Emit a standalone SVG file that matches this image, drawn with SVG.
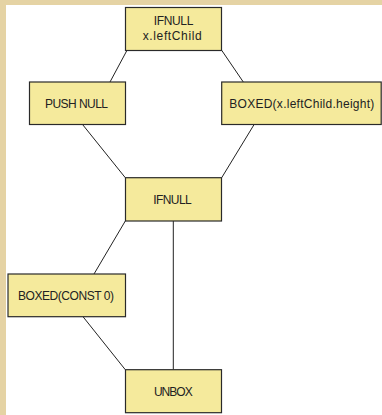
<svg xmlns="http://www.w3.org/2000/svg" width="382" height="415" viewBox="0 0 382 415">
<style>
.n rect{fill:#f5ea9c;stroke:#2a2a2a;stroke-width:1.2}
.n text{font-family:"Liberation Sans",Arial,sans-serif;font-size:12px;fill:#222;text-anchor:middle}
.e line{stroke:#222;stroke-width:1}
</style>
<rect x="0" y="0" width="382" height="415" fill="#e5d3a4"/>
<rect x="6" y="5" width="376" height="410" fill="#ffffff"/>
<g class="e">
<line x1="127" y1="50.3" x2="110" y2="82"/>
<line x1="221.7" y1="50.3" x2="243.3" y2="82"/>
<line x1="82.7" y1="124.7" x2="125.3" y2="177.7"/>
<line x1="254" y1="124.7" x2="221.7" y2="177.7"/>
<line x1="125.3" y1="221" x2="94" y2="274"/>
<line x1="173.3" y1="221" x2="173.3" y2="369.7"/>
<line x1="83" y1="316.7" x2="125.3" y2="369.7"/>
</g>
<g id="n1" class="n"><rect x="125.5" y="7.5" width="96" height="43"/><text x="173.6" y="25" textLength="39.5">IFNULL</text><text x="172.2" y="40" textLength="59">x.leftChild</text></g>
<g id="n2" class="n"><rect x="29.5" y="82" width="96" height="42.5"/><text x="76.5" y="107.6" textLength="63">PUSH NULL</text></g>
<g id="n3" class="n"><rect x="221.7" y="82" width="159.5" height="42.5"/><text x="301.8" y="107.6" textLength="145">BOXED(x.leftChild.height)</text></g>
<g id="n4" class="n"><rect x="125.5" y="177.7" width="96" height="43.3"/><text x="172.5" y="203.8" textLength="38.4">IFNULL</text></g>
<g id="n5" class="n"><rect x="8" y="274" width="117.5" height="42.7"/><text x="66" y="299.8" textLength="96">BOXED(CONST 0)</text></g>
<g id="n6" class="n"><rect x="125.5" y="369.7" width="96" height="43"/><text x="173.3" y="395.8" textLength="38.7">UNBOX</text></g>
</svg>
